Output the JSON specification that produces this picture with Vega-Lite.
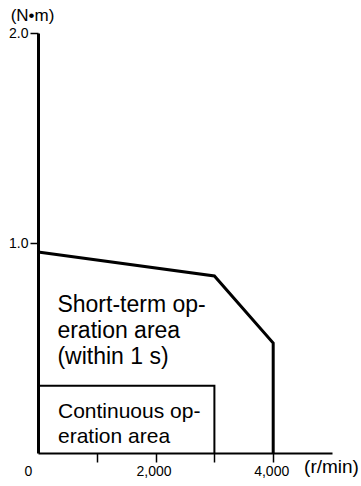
{
  "$schema": "https://vega.github.io/schema/vega-lite/v6.json",
  "width": 294,
  "height": 420,
  "autosize": {"type": "none"},
  "padding": {"left": 38, "top": 33, "right": 29, "bottom": 33},
  "background": "white",
  "config": {"view": {"stroke": null}, "font": "Liberation Sans"},
  "datasets": {
    "curves": [
      {"series": "short", "ord": 1, "speed": 0, "torque": 0.957},
      {"series": "short", "ord": 2, "speed": 3000, "torque": 0.843},
      {"series": "short", "ord": 3, "speed": 4000, "torque": 0.524},
      {"series": "short", "ord": 4, "speed": 4000, "torque": 0},
      {"series": "cont", "ord": 1, "speed": 0, "torque": 0.32},
      {"series": "cont", "ord": 2, "speed": 3000, "torque": 0.32},
      {"series": "cont", "ord": 3, "speed": 3000, "torque": 0}
    ],
    "labels": [
      {"series": "short", "speed": 330, "torque": 0.67, "text": ["Short-term op-", "eration area", "(within 1 s)"]},
      {"series": "cont", "speed": 340, "torque": 0.168, "text": ["Continuous op-", "eration area"]}
    ]
  },
  "layer": [
    {
      "data": {"name": "curves"},
      "transform": [{"filter": "datum.series == 'short'"}],
      "mark": {"type": "line", "color": "black", "strokeWidth": 3, "strokeJoin": "miter", "clip": false},
      "encoding": {
        "x": {
          "field": "speed", "type": "quantitative",
          "scale": {"domain": [0, 5000], "nice": false},
          "axis": {
            "values": [0, 1000, 2000, 3000, 4000],
            "labelExpr": "datum.value == 0 ? '0' : (datum.value == 2000 ? '2,000' : (datum.value == 4000 ? '4,000' : ''))",
            "labelFontSize": 14,
            "labelFont": "Liberation Sans",
            "labelColor": "black",
            "labelPadding": 2,
            "labelOffset": {"condition": {"test": "datum.value == 0", "value": -10}, "value": -2},
            "labelFlush": false,
            "labelOverlap": false,
            "tickColor": "black",
            "tickSize": 9,
            "tickWidth": 1.5,
            "tickOpacity": {"condition": {"test": "datum.value == 0", "value": 0}, "value": 1},
            "domainColor": "black",
            "domainWidth": 2,
            "grid": false,
            "title": "(r/min)",
            "titleFontSize": 19,
            "titleFontWeight": "normal",
            "titleColor": "black",
            "titleAnchor": null,
            "titleAlign": "center",
            "titleBaseline": "middle",
            "titleX": 293,
            "titleY": 13
          }
        },
        "y": {
          "field": "torque", "type": "quantitative",
          "scale": {"domain": [0, 2.0], "nice": false},
          "axis": {
            "values": [1.0, 2.0],
            "format": ".1f",
            "labelFontSize": 14,
            "labelFont": "Liberation Sans",
            "labelColor": "black",
            "labelPadding": 2,
            "tickColor": "black",
            "tickSize": 8,
            "tickWidth": 1.5,
            "domainColor": "black",
            "domainWidth": 3,
            "grid": false,
            "title": "(N•m)",
            "titleFontSize": 17,
            "titleFontWeight": "normal",
            "titleColor": "black",
            "titleAngle": 0,
            "titleAnchor": null,
            "titleAlign": "center",
            "titleBaseline": "middle",
            "titleX": -6,
            "titleY": -18
          }
        },
        "order": {"field": "ord", "type": "quantitative"}
      }
    },
    {
      "data": {"name": "curves"},
      "transform": [{"filter": "datum.series == 'cont'"}],
      "mark": {"type": "line", "color": "black", "strokeWidth": 2, "strokeJoin": "miter", "clip": false},
      "encoding": {
        "x": {"field": "speed", "type": "quantitative"},
        "y": {"field": "torque", "type": "quantitative"},
        "order": {"field": "ord", "type": "quantitative"}
      }
    },
    {
      "data": {"name": "labels"},
      "transform": [{"filter": "datum.series == 'short'"}],
      "mark": {"type": "text", "align": "left", "baseline": "alphabetic", "fontSize": 23, "lineHeight": 26, "color": "black"},
      "encoding": {
        "x": {"field": "speed", "type": "quantitative"},
        "y": {"field": "torque", "type": "quantitative"},
        "text": {"field": "text"}
      }
    },
    {
      "data": {"name": "labels"},
      "transform": [{"filter": "datum.series == 'cont'"}],
      "mark": {"type": "text", "align": "left", "baseline": "alphabetic", "fontSize": 21, "lineHeight": 25, "color": "black"},
      "encoding": {
        "x": {"field": "speed", "type": "quantitative"},
        "y": {"field": "torque", "type": "quantitative"},
        "text": {"field": "text"}
      }
    }
  ]
}
